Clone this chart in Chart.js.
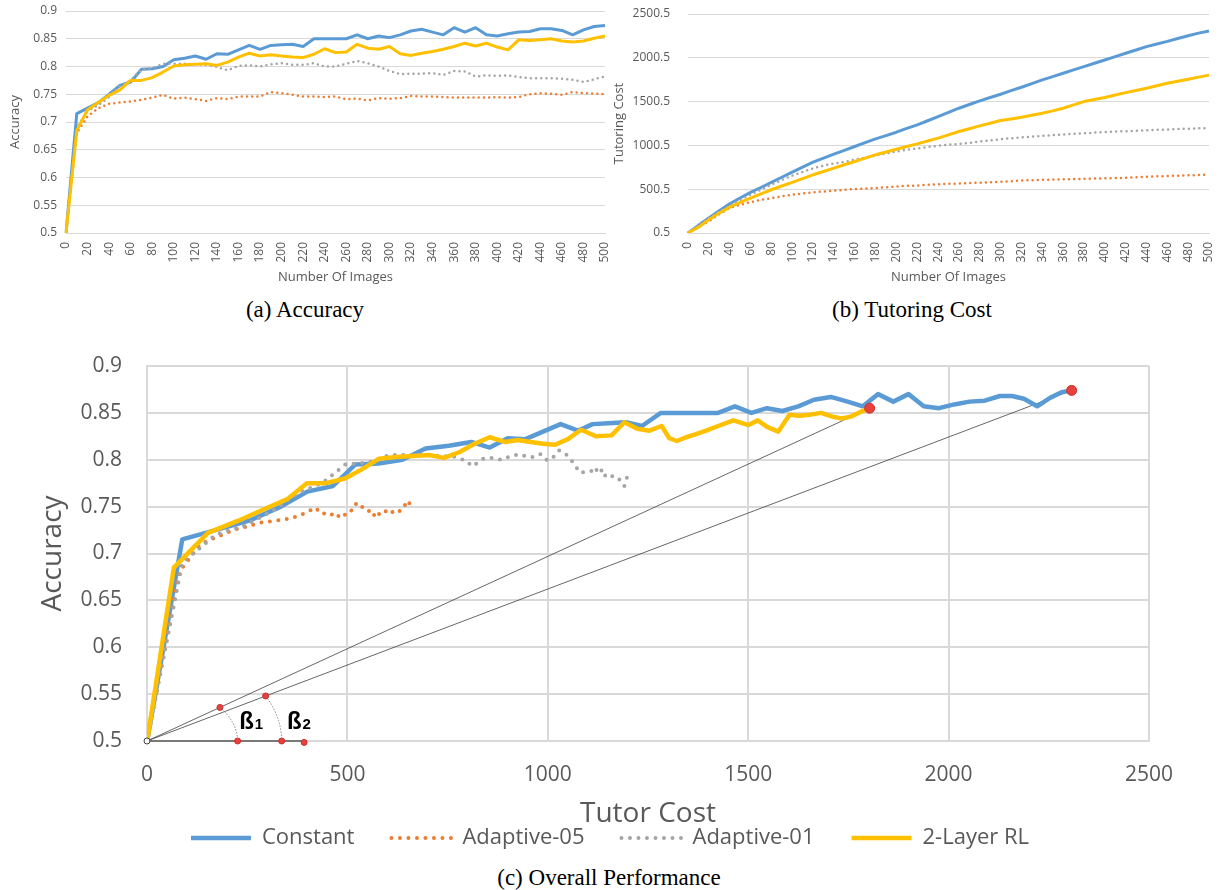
<!DOCTYPE html>
<html>
<head>
<meta charset="utf-8">
<script src="https://cdn.jsdelivr.net/npm/chart.js@4.4.1/dist/chart.umd.min.js"></script>
<style>
  body { margin: 0; background: #fff; width: 1220px; height: 890px; position: relative; overflow: hidden; }
  canvas { position: absolute; }
  .cap { position: absolute; font-family: "Liberation Serif", "Times New Roman", serif; font-size: 23px;
         line-height: 26px; color: #000; transform: translateX(-50%); white-space: nowrap; }
</style>
</head>
<body>
<canvas id="accChart" width="610" height="295" style="left:0;top:0"></canvas>
<canvas id="costChart" width="610" height="295" style="left:610px;top:0"></canvas>
<canvas id="overallChart" width="1220" height="535" style="left:0;top:330px"></canvas>
<div class="cap" style="left:305px;top:297px">(a) Accuracy</div>
<div class="cap" style="left:912px;top:297px">(b) Tutoring Cost</div>
<div class="cap" style="left:609px;top:865px">(c) Overall Performance</div>
<script>
// number of images seen (x of the two top charts)
const images = [0, 10, 20, 30, 40, 50, 60, 70, 80, 90, 100, 110, 120, 130, 140, 150, 160, 170, 180, 190,
  200, 210, 220, 230, 240, 250, 260, 270, 280, 290, 300, 310, 320, 330, 340, 350, 360, 370, 380, 390,
  400, 410, 420, 430, 440, 450, 460, 470, 480, 490, 500];

const seriesNames = ["Constant", "Adaptive-05", "Adaptive-01", "2-Layer RL"];

// accuracy per series
const constAcc = [0.5, 0.715, 0.725, 0.735, 0.75, 0.766, 0.772, 0.795, 0.796, 0.8, 0.812, 0.815, 0.819, 0.813,
  0.823, 0.822, 0.83, 0.838, 0.831, 0.838, 0.839, 0.84, 0.836, 0.85, 0.85, 0.85, 0.85, 0.857, 0.85, 0.855,
  0.852, 0.857, 0.864, 0.867, 0.862, 0.857, 0.87, 0.862, 0.87, 0.857, 0.855, 0.859, 0.862, 0.863, 0.868,
  0.868, 0.865, 0.857, 0.866, 0.872, 0.874];
const a05Acc = [0.5, 0.68, 0.71, 0.725, 0.733, 0.735, 0.737, 0.74, 0.744, 0.749, 0.742, 0.744, 0.741, 0.738,
  0.743, 0.741, 0.746, 0.746, 0.746, 0.754, 0.752, 0.749, 0.746, 0.746, 0.745, 0.746, 0.741, 0.742, 0.739,
  0.743, 0.742, 0.743, 0.747, 0.746, 0.746, 0.745, 0.744, 0.744, 0.744, 0.744, 0.745, 0.744, 0.745, 0.75,
  0.752, 0.751, 0.749, 0.754, 0.752, 0.751, 0.75];
const a01Acc = [0.5, 0.69, 0.72, 0.73, 0.745, 0.765, 0.775, 0.795, 0.797, 0.805, 0.805, 0.805, 0.804, 0.803,
  0.799, 0.793, 0.801, 0.802, 0.8, 0.804, 0.806, 0.803, 0.803, 0.806, 0.8, 0.8, 0.805, 0.81, 0.806, 0.8,
  0.792, 0.786, 0.787, 0.787, 0.788, 0.785, 0.792, 0.791, 0.782, 0.784, 0.783, 0.784, 0.781, 0.779, 0.779,
  0.779, 0.778, 0.776, 0.772, 0.777, 0.782];
const rlAcc = [0.5, 0.685, 0.722, 0.735, 0.748, 0.758, 0.775, 0.775, 0.78, 0.79, 0.801, 0.803, 0.804, 0.805,
  0.802, 0.808, 0.817, 0.824, 0.819, 0.821, 0.819, 0.817, 0.816, 0.822, 0.832, 0.825, 0.826, 0.84, 0.833,
  0.831, 0.836, 0.823, 0.82, 0.824, 0.827, 0.831, 0.836, 0.842, 0.837, 0.842, 0.835, 0.83, 0.848, 0.847,
  0.848, 0.85, 0.846, 0.844, 0.846, 0.851, 0.855];

// cumulative tutoring cost per series
const constCost = [0.5, 88, 171, 255, 334, 400, 464, 520, 578, 637, 695, 753, 809, 855, 900, 944, 988, 1032,
  1075, 1112, 1151, 1195, 1235, 1282, 1330, 1378, 1425, 1467, 1508, 1547, 1585, 1625, 1664, 1706, 1748, 1786,
  1824, 1862, 1900, 1938, 1976, 2014, 2052, 2090, 2128, 2158, 2188, 2221, 2253, 2282, 2307];
const a05Cost = [0.5, 80, 133, 215, 285, 322, 353, 377, 399, 419, 437, 451, 464, 474, 483, 493, 502, 508, 513,
  523, 532, 538, 543, 550, 556, 561, 566, 571, 575, 580, 585, 592, 599, 603, 607, 610, 613, 616, 619, 622,
  625, 627, 630, 637, 643, 647, 651, 655, 659, 663, 666];
const a01Cost = [0.5, 88, 171, 245, 312, 378, 437, 495, 551, 605, 655, 698, 738, 770, 795, 812, 838, 862, 885,
  907, 930, 950, 966, 982, 996, 1008, 1018, 1028, 1045, 1058, 1071, 1082, 1092, 1101, 1109, 1117, 1125,
  1132, 1139, 1146, 1152, 1158, 1163, 1168, 1173, 1178, 1182, 1187, 1191, 1195, 1198];
const rlCost = [0.5, 67, 152, 228, 296, 350, 399, 447, 494, 537, 578, 622, 665, 703, 741, 779, 817, 855, 893,
  925, 957, 988, 1018, 1050, 1083, 1120, 1159, 1191, 1223, 1254, 1284, 1303, 1322, 1345, 1368, 1395, 1425,
  1463, 1501, 1524, 1547, 1575, 1603, 1628, 1653, 1682, 1710, 1733, 1756, 1780, 1803];

// tick labels
const accTicks = [0.5, 0.55, 0.6, 0.65, 0.7, 0.75, 0.8, 0.85, 0.9];
const tutorTicks = [0.5, 500.5, 1000.5, 1500.5, 2000.5, 2500.5];
const costAxisTicks = [0, 500, 1000, 1500, 2000, 2500];

// angle sketch in panel (c): marks on the slope lines / base line, and the two labels
const angleMarks = [[182, 0.5358], [296, 0.548], [226, 0.5], [336, 0.5], [392, 0.4985]];
const baseLineEnd = [392, 0.5];
const arcPairs = [[[182, 0.5358], [226, 0.5]], [[296, 0.548], [336, 0.5]]];
const angleLabels = [["ß", "1", 230, 0.5124], ["ß", "2", 349, 0.5124]];

const colors = ["#5B9BD5", "#ED7D31", "#A5A5A5", "#FFC000"];
const gridColor = "#d9d9d9";

Chart.defaults.font.family = "'Open Sans', sans-serif";
Chart.defaults.color = "#595959";
Chart.defaults.animation = false;
Chart.defaults.plugins.tooltip.enabled = false;

function makeSet(i, values, big) {
  const dotted = i === 1 || i === 2;
  return {
    label: seriesNames[i],
    data: values,
    borderColor: colors[i],
    backgroundColor: colors[i],
    borderWidth: dotted ? (big ? 4 : 2.5) : (big ? 4.5 : 3),
    borderDash: dotted ? [0, big ? 8.5 : 5.2] : [],
    borderCapStyle: dotted ? "round" : "butt",
    borderJoinStyle: "round",
    pointRadius: 0,
    pointHoverRadius: 0,
    tension: 0,
    order: 3 - i
  };
}

function pairs(xs, ys) {
  return xs.map((x, i) => ({ x: x, y: ys[i] }));
}

function imageAxis(title) {
  return {
    ticks: {
      autoSkip: false, maxRotation: 90, minRotation: 90, padding: 9, font: { size: 12 },
      callback: (v, i) => (i % 2 === 0 ? images[i] : "")
    },
    grid: { display: false, drawTicks: false },
    border: { color: gridColor },
    afterFit: s => { s.height = 62; s.paddingLeft = 0; s.paddingRight = 0; },
    title: { display: true, text: title, font: { size: 13 }, padding: { top: 0, bottom: 9.5 } }
  };
}

function topChart(id, sets, yMin, yMax, yTickList, yTitle, yWidth, yPad, titlePad, padding) {
  new Chart(document.getElementById(id), {
    type: "line",
    data: { labels: images, datasets: sets.map((v, i) => makeSet(i, v, false)) },
    options: {
      responsive: false,
      layout: { padding: padding },
      plugins: { legend: { display: false } },
      scales: {
        x: imageAxis("Number Of Images"),
        y: {
          min: yMin, max: yMax,
          afterBuildTicks: s => { s.ticks = yTickList.map(v => ({ value: v })); },
          afterFit: s => { s.width = yWidth; s.paddingTop = 0; s.paddingBottom = 0; },
          ticks: { padding: yPad, font: { size: 12 }, callback: v => String(v) },
          grid: { color: gridColor, drawTicks: false },
          border: { display: false },
          title: { display: true, text: yTitle, font: { size: 13 }, padding: { top: titlePad, bottom: 0 } }
        }
      }
    }
  });
}

topChart("accChart", [constAcc, a05Acc, a01Acc, rlAcc], 0.5, 0.9, accTicks, "Accuracy", 66, 9, 7,
  { left: 0, right: 5, top: 11, bottom: 0 });
topChart("costChart", [constCost, a05Cost, a01Cost, rlCost], 0.5, 2500.5, tutorTicks, "Tutoring Cost", 78, 18, 1,
  { left: 0, right: 11, top: 14, bottom: 0 });

// panel (c): accuracy against tutor cost
const overallSets = [
  makeSet(0, pairs(constCost, constAcc), true),
  makeSet(1, pairs(a05Cost, a05Acc), true),
  makeSet(2, pairs(a01Cost, a01Acc), true),
  makeSet(3, pairs(rlCost, rlAcc), true)
];
const last = rlCost.length - 1;
const slopeStyle = { borderColor: "#404040", borderWidth: 0.8, pointRadius: 0, tension: 0, order: 10, clip: false };
overallSets.push(Object.assign({ data: [{ x: 0, y: 0.5 }, { x: rlCost[last], y: rlAcc[last] }] }, slopeStyle));
overallSets.push(Object.assign({ data: [{ x: 0, y: 0.5 }, { x: constCost[last], y: constAcc[last] }] }, slopeStyle));
overallSets.push({
  data: [{ x: 0, y: 0.5 }, { x: baseLineEnd[0], y: baseLineEnd[1] }],
  borderColor: "#595959", borderWidth: 1.5, tension: 0, order: -1, clip: false,
  pointRadius: [3, 0], pointBackgroundColor: "#fff", pointBorderColor: "#404040", pointBorderWidth: 1
});
overallSets.push({
  data: [{ x: rlCost[last], y: rlAcc[last] }, { x: constCost[last], y: constAcc[last] }]
    .concat(angleMarks.map(p => ({ x: p[0], y: p[1] }))),
  showLine: false, order: -2, clip: false,
  pointRadius: [5, 5, 3, 3, 3, 3, 3],
  pointBackgroundColor: "#E8413C", pointBorderColor: "#C9302C", pointBorderWidth: 1
});

const angleSketch = {
  id: "angleSketch",
  afterDatasetsDraw(chart) {
    const ctx = chart.ctx;
    const x = chart.scales.x, y = chart.scales.y;
    const ox = x.getPixelForValue(0), oy = y.getPixelForValue(0.5);
    ctx.save();
    ctx.strokeStyle = "#808080";
    ctx.lineWidth = 1;
    ctx.setLineDash([1.5, 1.5]);
    arcPairs.forEach(pair => {
      const tx = x.getPixelForValue(pair[0][0]) - ox;
      const ty = oy - y.getPixelForValue(pair[0][1]);
      const rx = x.getPixelForValue(pair[1][0]) - ox;
      const c = Math.min(tx / rx, 0.999);
      const ry = ty / Math.sqrt(1 - c * c);
      ctx.beginPath();
      ctx.ellipse(ox, oy, rx, ry, 0, -Math.acos(c), 0);
      ctx.stroke();
    });
    ctx.setLineDash([]);
    ctx.fillStyle = "#000";
    ctx.textBaseline = "alphabetic";
    ctx.textAlign = "left";
    angleLabels.forEach(l => {
      const px = x.getPixelForValue(l[2]), py = y.getPixelForValue(l[3]);
      ctx.font = "bold 24px 'Liberation Sans', Arial, sans-serif";
      ctx.fillText(l[0], px, py);
      const w = ctx.measureText(l[0]).width;
      ctx.font = "bold 15px 'Liberation Sans', Arial, sans-serif";
      ctx.fillText(l[1], px + w + 1, py);
    });
    ctx.restore();
  }
};

new Chart(document.getElementById("overallChart"), {
  type: "line",
  data: { datasets: overallSets },
  plugins: [angleSketch],
  options: {
    responsive: false,
    layout: { padding: { left: 0, right: 0, top: 36, bottom: 6 } },
    plugins: {
      legend: {
        position: "bottom",
        labels: {
          usePointStyle: true, pointStyleWidth: 60, padding: 37, font: { size: 22 }, color: "#595959",
          generateLabels: chart => chart.data.datasets.slice(0, 4).map((ds, i) => ({
            text: ds.label, strokeStyle: ds.borderColor, fillStyle: ds.borderColor,
            lineWidth: ds.borderWidth, lineDash: ds.borderDash, lineCap: ds.borderCapStyle,
            pointStyle: "line", datasetIndex: i, hidden: false, fontColor: "#595959"
          }))
        }
      }
    },
    scales: {
      x: {
        type: "linear", min: 0, max: 2500,
        afterBuildTicks: s => { s.ticks = costAxisTicks.map(v => ({ value: v })); },
        afterFit: s => { s.height = 49; s.paddingLeft = 0; s.paddingRight = 71; },
        ticks: { padding: 21, font: { size: 21 }, callback: v => String(v) },
        grid: { color: gridColor, lineWidth: 2, drawTicks: false },
        border: { color: gridColor, width: 2 },
        title: { display: true, text: "Tutor Cost", font: { size: 28 }, padding: { top: 0, bottom: -40.8 } }
      },
      y: {
        min: 0.5, max: 0.9,
        afterBuildTicks: s => { s.ticks = accTicks.map(v => ({ value: v })); },
        afterFit: s => { s.width = 147; s.paddingTop = 0; s.paddingBottom = 0; },
        ticks: { padding: 25, font: { size: 21 }, callback: v => String(v) },
        grid: { color: gridColor, lineWidth: 2, drawTicks: false },
        border: { color: gridColor, width: 2 },
        title: { display: true, text: "Accuracy", font: { size: 28 }, padding: { top: 36, bottom: 0 } }
      }
    }
  }
});
</script>
</body>
</html>
